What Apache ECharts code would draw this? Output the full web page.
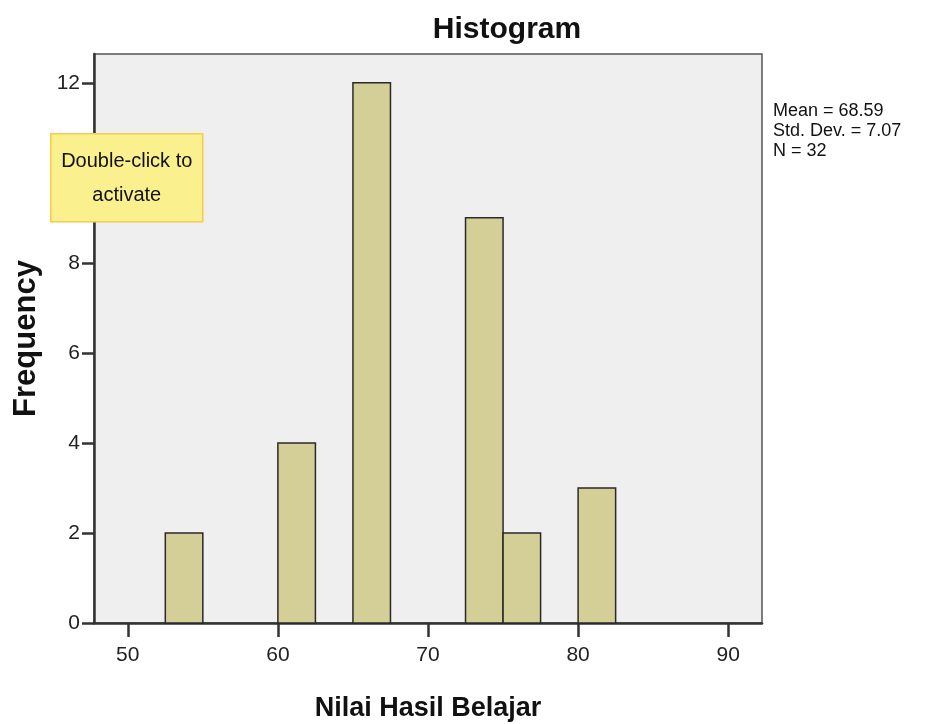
<!DOCTYPE html>
<html>
<head>
<meta charset="utf-8">
<script src="https://cdn.jsdelivr.net/npm/echarts@6/dist/echarts.min.js"></script>
<style>
  html, body { margin: 0; padding: 0; background: #fff; }
  #chart { width: 926px; height: 724px; }
</style>
</head>
<body>
<div id="chart"></div>
<script>
// bin edges and counts
const binStart = [52.5, 60, 65, 72.5, 75, 80]
const binEnd = [55, 62.5, 67.5, 75, 77.5, 82.5]
const counts = [2, 4, 12, 9, 2, 3]
const xTicks = [50, 60, 70, 80, 90]
const yTicks = [0, 2, 4, 6, 8, 10, 12]
const stats = ['Mean = 68.59', 'Std. Dev. = 7.07', 'N = 32']

const chart = echarts.init(document.getElementById('chart'))
const font = 'Liberation Sans, Arial, sans-serif'

const bins = binStart.map((s, i) => [s, binEnd[i], counts[i]])

const option = {
  animation: false,
  title: {
    text: 'Histogram',
    left: 502,
    top: 10,
    textAlign: 'center',
    textStyle: { fontFamily: font, fontSize: 30, fontWeight: 'bold', color: '#111' }
  },
  grid: {
    left: 94,
    right: 164,
    top: 54,
    bottom: 101,
    containLabel: false,
    outerBoundsMode: 'none',
    show: true,
    backgroundColor: '#EFEFEF',
    borderColor: '#555',
    borderWidth: 1.5
  },
  xAxis: {
    type: 'value',
    min: 47.75,
    max: 92.25,
    name: 'Nilai Hasil Belajar',
    nameLocation: 'middle',
    nameGap: 72,
    nameTextStyle: { fontFamily: font, fontSize: 27, fontWeight: 'bold', color: '#111' },
    splitLine: { show: false },
    axisLine: { lineStyle: { color: '#333', width: 2.5 } },
    axisTick: { customValues: xTicks, length: 14, lineStyle: { color: '#333', width: 2.5 } },
    axisLabel: { customValues: xTicks, fontFamily: font, fontSize: 21, color: '#222', margin: 22 }
  },
  yAxis: {
    type: 'value',
    min: 0,
    max: 12.64,
    name: 'Frequency',
    nameLocation: 'middle',
    nameGap: 52,
    nameRotate: 90,
    nameTextStyle: { fontFamily: font, fontSize: 31, fontWeight: 'bold', color: '#111' },
    splitLine: { show: false },
    axisLine: { show: true, lineStyle: { color: '#333', width: 2.5 } },
    axisTick: { show: true, customValues: yTicks, length: 12, lineStyle: { color: '#333', width: 2.5 } },
    axisLabel: { customValues: yTicks, fontFamily: font, fontSize: 21, color: '#222', margin: 14 }
  },
  series: [{
    type: 'custom',
    data: bins,
    encode: { x: [0, 1], y: 2 },
    renderItem: (params, api) => {
      const p0 = api.coord([api.value(0), 0])
      const p1 = api.coord([api.value(1), api.value(2)])
      return {
        type: 'rect',
        shape: { x: p0[0], y: p1[1], width: p1[0] - p0[0], height: p0[1] - p1[1] },
        style: { fill: '#D3CF96', stroke: '#2a2a2a', lineWidth: 1.5 }
      }
    }
  }],
  graphic: [
    {
      type: 'text',
      left: 773,
      top: 101,
      z: 100,
      style: {
        text: stats.join('\n'),
        fontFamily: font,
        fontSize: 18,
        lineHeight: 20,
        fill: '#111'
      }
    },
    {
      type: 'group',
      left: 50,
      top: 133,
      z: 100,
      children: [
        {
          type: 'rect',
          z: 100,
          shape: { x: 0, y: 0, width: 152, height: 88 },
          style: { fill: '#FAF08E', stroke: '#F7CC4A', lineWidth: 1.5 }
        },
        {
          type: 'text',
          z: 101,
          x: 76,
          y: 45,
          style: {
            text: 'Double-click to\nactivate',
            fontFamily: font,
            fontSize: 20,
            lineHeight: 34,
            align: 'center',
            verticalAlign: 'middle',
            fill: '#111'
          }
        }
      ]
    }
  ]
}

chart.setOption(option)
window.addEventListener('resize', () => chart.resize())
</script>
</body>
</html>
